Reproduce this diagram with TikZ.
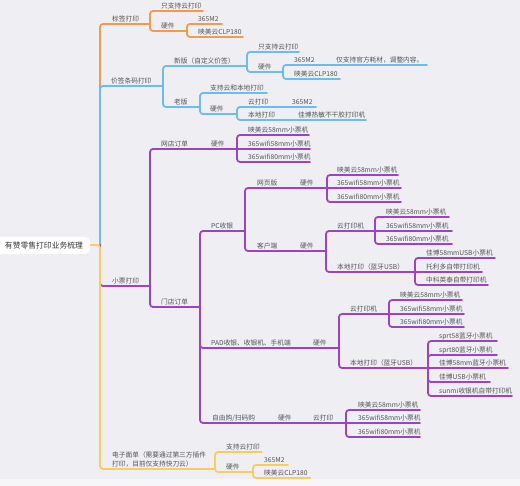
\documentclass[tikz,border=0pt]{standalone}
\usepackage{fontspec}
\newfontfamily\cjk{Noto Sans CJK SC}
\definecolor{bgc}{HTML}{EEEEF3}
\definecolor{bgl}{HTML}{F6F6F8}
\definecolor{corg}{HTML}{F29B4F}
\definecolor{cblu}{HTML}{6BBDF0}
\definecolor{cpur}{HTML}{9E42C2}
\definecolor{cyel}{HTML}{F8CD5C}
\definecolor{ctxt}{HTML}{555555}
\definecolor{croot}{HTML}{333333}
\tikzset{
  brline/.style={line width=1.8pt, rounded corners=3pt, line cap=round, line join=round},
  org/.style={brline, draw=corg},
  blu/.style={brline, draw=cblu},
  pur/.style={brline, draw=cpur},
  yel/.style={brline, draw=cyel},
  lbl/.style={anchor=base west, inner sep=0pt, text=ctxt, font=\cjk\fontsize{6.7}{8}\selectfont},
  rootbox/.style={fill=white, rounded corners=5pt, draw=none},
}
\newcommand\brk[5]{\draw[#1] (#2,#3) -- (#2,#4) -- (#5,#4);}
\newcommand\lnh[4]{\draw[#1] (#2,#3) -- (#4,#3);}
\newcommand\lb[4]{\node[lbl] (#1) at (#2,#3) {#4};}
\begin{document}
\begin{tikzpicture}[x=1pt,y=-1pt]
\useasboundingbox (0,0) rectangle (520,486);
\fill[bgc] (0,0) rectangle (520,479);
\fill[bgl] (0,479) rectangle (520,486);

% ---------- orange: 标签打印 ----------
\draw[org] (100,245) -- (100,24) -- (150,24);
\lb{a1}{112}{21.5}{标签打印}
\brk{org}{150}{24}{11}{203} \lb{a2}{161}{8.5}{只支持云打印}
\brk{org}{150}{24}{31}{187} \lb{a3}{161}{28.5}{硬件}
\brk{org}{187}{31}{24}{222} \lb{a4}{198}{21.5}{365M2}
\brk{org}{187}{31}{37}{243} \lb{a5}{198}{34.5}{映美云CLP180}

% ---------- blue: 价签条码打印 ----------
\draw[blu] (100,245) -- (100,86) -- (163,86);
\lb{b1}{111}{83.5}{价签条码打印}
\brk{blu}{163}{86}{66}{247} \lb{b2}{174}{63.5}{新版（自定义价签）}
\brk{blu}{247}{66}{52}{299} \lb{b3}{258}{49.5}{只支持云打印}
\brk{blu}{247}{66}{72}{283} \lb{b4}{258}{69.5}{硬件}
\brk{blu}{283}{72}{65}{427} \lb{b5}{294}{62.5}{365M2} \lb{b6}{336}{62.5}{仅支持官方耗材，调整内容。}
\brk{blu}{283}{72}{79}{340} \lb{b7}{294}{76.5}{映美云CLP180}
\brk{blu}{163}{86}{107}{200} \lb{b8}{174}{104.5}{老版}
\brk{blu}{200}{107}{93}{267} \lb{b9}{210}{90.5}{支持云和本地打印}
\brk{blu}{200}{107}{114}{237} \lb{b10}{210}{111.5}{硬件}
\brk{blu}{237}{114}{107}{316} \lb{b11}{248}{104.5}{云打印} \lb{b12}{292}{104.5}{365M2}
\brk{blu}{237}{114}{120}{366} \lb{b13}{248}{117.5}{本地打印} \lb{b14}{298}{117.5}{佳博热敏不干胶打印机}

% ---------- purple: 小票打印 ----------
\draw[pur] (100,245) -- (100,286) -- (150,286);
\lb{c1}{112}{283.5}{小票打印}
\brk{pur}{150}{286}{149}{237} \lb{c2}{161}{146.5}{网店订单} \lb{c3}{211}{146.5}{硬件}
\brk{pur}{237}{149}{135}{309} \lb{c4}{248}{132.5}{映美云58mm小票机}
\lnh{pur}{237}{149}{310} \lb{c5}{248}{146.5}{365wifi58mm小票机}
\brk{pur}{237}{149}{162}{310} \lb{c6}{248}{159.5}{365wifi80mm小票机}

\brk{pur}{150}{286}{307}{200} \lb{c7}{161}{304.5}{门店订单}
\brk{pur}{200}{307}{231}{245} \lb{c8}{211}{228.5}{PC收银}
\brk{pur}{245}{231}{188}{327} \lb{c9}{257}{185.5}{网页版} \lb{c10}{300}{185.5}{硬件}
\brk{pur}{327}{188}{175}{398} \lb{c11}{337}{172.5}{映美云58mm小票机}
\lnh{pur}{327}{188}{401} \lb{c12}{337}{185.5}{365wifi58mm小票机}
\brk{pur}{327}{188}{202}{401} \lb{c13}{337}{199.5}{365wifi80mm小票机}
\brk{pur}{245}{231}{251}{326} \lb{c14}{257}{248.5}{客户端} \lb{c15}{300}{248.5}{硬件}
\brk{pur}{326}{251}{231}{375} \lb{c16}{337}{228.5}{云打印机}
\brk{pur}{375}{231}{217}{449} \lb{c17}{386}{214.5}{映美云58mm小票机}
\lnh{pur}{375}{231}{452} \lb{c18}{386}{228.5}{365wifi58mm小票机}
\brk{pur}{375}{231}{244}{452} \lb{c19}{386}{241.5}{365wifi80mm小票机}
\brk{pur}{326}{251}{272}{415} \lb{c20}{337}{269.5}{本地打印（蓝牙USB）}
\brk{pur}{415}{272}{258}{495} \lb{c21}{426}{255.5}{佳博58mmUSB小票机}
\lnh{pur}{415}{272}{482} \lb{c22}{426}{269.5}{托利多自带打印机}
\brk{pur}{415}{272}{285}{488} \lb{c23}{426}{282.5}{中科英泰自带打印机}

\brk{pur}{200}{307}{348}{339} \lb{c24}{211}{345.5}{PAD收银、收银机、手机端} \lb{c25}{313}{345.5}{硬件}
\brk{pur}{339}{348}{314}{389} \lb{c26}{350}{311.5}{云打印机}
\brk{pur}{389}{314}{300}{462} \lb{c27}{400}{297.5}{映美云58mm小票机}
\lnh{pur}{389}{314}{464} \lb{c28}{400}{311.5}{365wifi58mm小票机}
\brk{pur}{389}{314}{327}{464} \lb{c29}{400}{324.5}{365wifi80mm小票机}
\brk{pur}{339}{348}{368}{428} \lb{c30}{350}{365.5}{本地打印（蓝牙USB）}
\brk{pur}{428}{368}{341}{497} \lb{c31}{439}{338.5}{sprt58蓝牙小票机}
\brk{pur}{428}{368}{355}{497} \lb{c32}{439}{352.5}{sprt80蓝牙小票机}
\lnh{pur}{428}{368}{508} \lb{c33}{439}{365.5}{佳博58mm蓝牙小票机}
\brk{pur}{428}{368}{382}{490} \lb{c34}{439}{379.5}{佳博USB小票机}
\brk{pur}{428}{368}{396}{512} \lb{c35}{439}{393.5}{sunmi收银机自带打印机}

\brk{pur}{200}{307}{423}{346} \lb{c36}{212}{420.5}{自由购/扫码购} \lb{c37}{278}{420.5}{硬件} \lb{c38}{313}{420.5}{云打印}
\brk{pur}{346}{423}{410}{420} \lb{c39}{358}{407.5}{映美云58mm小票机}
\lnh{pur}{346}{423}{420} \lb{c40}{358}{420.5}{365wifi58mm小票机}
\brk{pur}{346}{423}{437}{420} \lb{c41}{358}{434.5}{365wifi80mm小票机}

% ---------- yellow: 电子面单 ----------
\draw[yel] (90,245) -- (100,245) -- (100,469) -- (215,469);
\node[lbl, anchor=south west, align=left, font=\cjk\fontsize{6.7}{9}\selectfont] (d1) at (112,467.6) {电子面单（需要通过第三方插件\\打印，目前仅支持快刀云）};
\brk{yel}{215}{469}{452}{262} \lb{d2}{226}{449.5}{支持云打印}
\brk{yel}{215}{469}{472}{253} \lb{d3}{226}{469.5}{硬件}
\brk{yel}{253}{472}{465}{288} \lb{d4}{264}{462.5}{365M2}
\brk{yel}{253}{472}{478}{310} \lb{d5}{264}{475.5}{映美云CLP180}

% ---------- root ----------
\fill[rootbox] (-6,237) rectangle (90,254);
\node[inner sep=0pt, text=croot, font=\cjk\fontsize{7.8}{9}\selectfont] (root) at (44,245.5) {有赞零售打印业务梳理};
\end{tikzpicture}
\end{document}
